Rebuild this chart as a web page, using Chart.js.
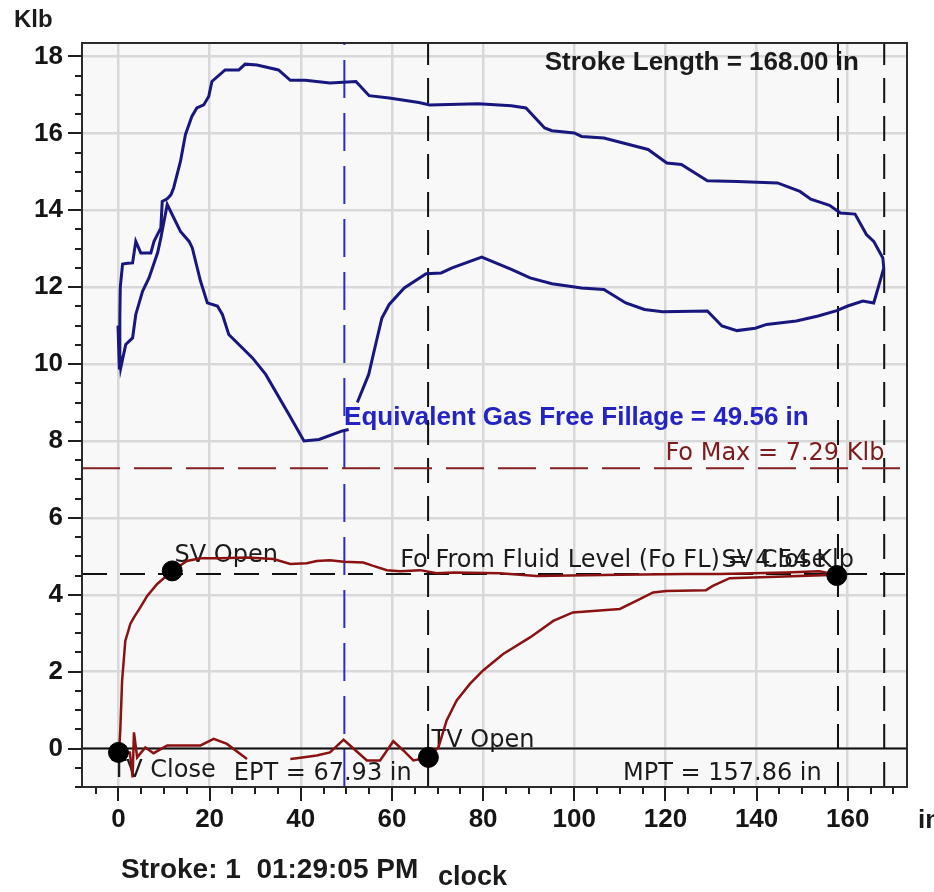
<!DOCTYPE html>
<html>
<head>
<meta charset="utf-8">
<title>Dynamometer card</title>
<script src="https://cdn.jsdelivr.net/npm/chart.js@4.4.1/dist/chart.umd.min.js"></script>
<style>
  body { margin: 0; background: #fff; }
  #wrap { width: 934px; height: 892px; }
</style>
</head>
<body>
<div id="wrap"><canvas id="card" width="934" height="892"></canvas></div>
<script>
// Surface card, upstroke (left to right along the top)
const surfaceUpPos = [0.2, 0.3, 0.4, 0.9, 2.0, 3.1, 3.8, 4.9, 7.1, 7.8, 9.3, 9.6, 10.7, 11.5, 12.1, 13.6, 14.7, 16.1, 17.2, 18.7, 19.8, 20.5, 23.4, 26.4, 27.8, 30.4, 35.1, 37.7, 41.0, 46.4, 52.1, 55.0, 59.4, 65.9, 68.3, 78.9, 86.2, 89.4, 93.5, 95.1, 100.0, 101.6, 106.5, 116.2, 120.3, 123.5, 129.2, 135.7, 144.6, 149.5, 151.9, 156.0, 158.4, 161.6, 164.1, 165.7, 167.7, 167.9];
const surfaceUpLoad = [9.86, 11.2, 12.0, 12.6, 12.62, 12.63, 13.19, 12.89, 12.89, 13.19, 13.54, 14.23, 14.3, 14.4, 14.58, 15.27, 15.97, 16.44, 16.66, 16.74, 16.96, 17.35, 17.65, 17.65, 17.8, 17.78, 17.65, 17.38, 17.38, 17.31, 17.35, 16.98, 16.92, 16.8, 16.74, 16.77, 16.72, 16.66, 16.14, 16.07, 16.01, 15.92, 15.88, 15.58, 15.23, 15.19, 14.77, 14.75, 14.71, 14.49, 14.29, 14.13, 13.93, 13.9, 13.37, 13.19, 12.76, 12.5];

// Surface card, downstroke (right to left along the bottom); null = hidden under a label
const surfaceDownPos = [167.3, 165.7, 163.3, 160.0, 157.6, 153.5, 148.7, 142.2, 139.7, 135.7, 132.4, 129.2, 119.4, 115.4, 111.3, 106.5, 101.6, 95.1, 90.3, 86.2, 79.7, 73.2, 70.8, 67.5, 62.7, 59.4, 57.8, 56.6, 54.9, 52.4, 51.5, 50.5, 49.1, 44.0, 40.7, 37.4, 32.3, 29.4, 24.2, 22.8, 21.7, 19.5, 18.0, 16.2, 15.5, 13.6, 10.7, 9.3, 8.6, 6.7, 5.3, 3.8, 3.1, 1.6, 0.5, -0.1, 0.2];
const surfaceDownLoad = [12.24, 11.59, 11.64, 11.51, 11.39, 11.25, 11.12, 11.03, 10.93, 10.87, 10.99, 11.38, 11.36, 11.42, 11.59, 11.94, 11.98, 12.09, 12.24, 12.46, 12.78, 12.5, 12.37, 12.35, 11.98, 11.55, 11.2, 10.6, 9.73, 9.0, null, 8.3, 8.26, 8.04, 8.0, 8.69, 9.73, 10.16, 10.77, 11.29, 11.51, 11.59, 12.16, 13.02, 13.19, 13.45, 14.15, 13.28, 12.9, 12.24, 11.9, 11.29, 10.68, 10.51, 9.9, 11.0, 9.86];

// Pump card, upstroke (TV close -> SV open -> SV close)
const pumpUpPos = [0.1, 0.4, 0.8, 1.5, 2.6, 3.4, 4.8, 6.3, 8.5, 11.8, 15.0, 18.0, 22.3, 28.2, 34.0, 37.7, 41.3, 43.5, 46.4, 49.4, 53.7, 55.9, 58.9, 61.8, 66.2, 69.8, 73.5, 83.7, 91.7, 110.0, 124.6, 131.9, 139.2, 146.5, 153.8, 157.4];
const pumpUpLoad = [-0.1, 0.47, 1.77, 2.8, 3.24, 3.41, 3.67, 3.97, 4.28, 4.62, 4.88, 4.95, 4.95, 4.97, 4.93, 4.8, 4.82, 4.88, 4.9, 4.86, 4.84, 4.75, 4.64, 4.61, 4.64, 4.56, 4.58, 4.56, 4.49, 4.52, 4.54, 4.54, 4.56, 4.58, 4.61, 4.52];

// Pump card, downstroke (SV close -> TV open -> TV close)
const pumpDownPos = [134.1, 130.4, 128.9, 120.2, 117.3, 113.6, 110.0, 104.1, 99.7, 95.4, 90.3, 84.4, 80.0, 77.1, 74.2, 72.0, 70.2, 68.0, 64.7, 62.5, 60.3, 57.4, 54.5, 49.4, 46.4, 43.5, 39.1, 37.7, 33.0, 28.2, 23.8, 20.9, 18.0, 10.7, 7.7, 5.9, 4.1, 3.4, 3.1, 2.5, 0.1];
const pumpDownLoad = [4.43, 4.23, 4.12, 4.1, 4.06, 3.84, 3.63, 3.58, 3.54, 3.32, 2.89, 2.46, 2.03, 1.68, 1.25, 0.73, 0.03, -0.23, -0.31, -0.05, 0.19, -0.31, -0.31, 0.23, -0.1, -0.18, -0.25, -0.27, null, -0.27, 0.12, 0.25, 0.08, 0.08, -0.12, 0.03, -0.23, 0.42, -0.75, -0.1, -0.1];

// Valve events
const valveNames = ["TV Close", "SV Open", "TV Open", "SV Close"];
const valvePos = [0, 11.8, 68.0, 157.6];
const valveLoad = [-0.1, 4.62, -0.23, 4.5];

// Reference values
const foMax = 7.29;
const foFluidLevel = 4.54;
const fillage = 49.56;
const ept = 67.93;
const mpt = 157.86;
const strokeLength = 168.0;

// Axes
const xTicks = [0, 20, 40, 60, 80, 100, 120, 140, 160];
const yTicks = [0, 2, 4, 6, 8, 10, 12, 14, 16, 18];
const xRange = [-8, 173];
const yRange = [-1, 18.35];

function toPoints(xs, ys) {
    return xs.map((x, i) => ({ x: x, y: ys[i] }));
}

function hLine(y) {
    return [{ x: xRange[0], y: y }, { x: xRange[1], y: y }];
}

function vLine(x) {
    return [{ x: x, y: yRange[0] }, { x: x, y: yRange[1] }];
}

const regular = "24px 'DejaVu Sans'";
const bold = "bold 26px 'Liberation Sans'";

// Text placed on the plot, anchored in data units (left edge, baseline)
const notes = [
    { text: "Stroke Length = " + strokeLength.toFixed(2) + " in", x: 93.5, y: 17.66, font: bold, color: "#1b1b1b" },
    { text: "Equivalent Gas Free Fillage = " + fillage.toFixed(2) + " in", x: 49.5, y: 8.41, font: bold, color: "#2424c4" },
    { text: "Fo Max = " + foMax.toFixed(2) + " Klb", x: 120.0, y: 7.51, font: regular, color: "#7c1c1c" },
    { text: "Fo From Fluid Level (Fo FL) = " + foFluidLevel.toFixed(2) + " Klb", x: 61.8, y: 4.73, font: regular, color: "#1b1b1b" },
    { text: valveNames[1], x: 12.3, y: 4.84, font: regular, color: "#1b1b1b" },
    { text: valveNames[3], x: 132.3, y: 4.73, font: regular, color: "#1b1b1b" },
    { text: valveNames[2], x: 68.7, y: 0.03, font: regular, color: "#1b1b1b" },
    { text: valveNames[0], x: -1.5, y: -0.73, font: regular, color: "#1b1b1b" },
    { text: "EPT = " + ept.toFixed(2) + " in", x: 25.3, y: -0.83, font: regular, color: "#1b1b1b" },
    { text: "MPT = " + mpt.toFixed(2) + " in", x: 110.7, y: -0.83, font: regular, color: "#1b1b1b" }
];

// Plot background, on-plot notes, minor ticks, frame and outside captions
const cardDecor = {
    id: "cardDecor",
    beforeDraw(chart) {
        const { ctx, chartArea: a } = chart;
        ctx.save();
        ctx.fillStyle = "#f8f8f8";
        ctx.fillRect(a.left, a.top, a.right - a.left, a.bottom - a.top);
        ctx.restore();
    },
    beforeDatasetsDraw(chart) {
        const { ctx, scales } = chart;
        ctx.save();
        ctx.textBaseline = "alphabetic";
        ctx.textAlign = "left";
        notes.forEach(n => {
            ctx.font = n.font;
            ctx.fillStyle = n.color;
            ctx.fillText(n.text, scales.x.getPixelForValue(n.x), scales.y.getPixelForValue(n.y));
        });
        ctx.restore();
    },
    afterDraw(chart) {
        const { ctx, chartArea: a, scales } = chart;
        ctx.save();
        ctx.strokeStyle = "#1e1e1e";
        ctx.lineWidth = 2;

        // tick marks outside the frame
        ctx.beginPath();
        for (let v = -5; v <= xRange[1]; v += 5) {
            const px = Math.round(scales.x.getPixelForValue(v));
            const len = v % 20 === 0 ? 14 : 7;
            ctx.moveTo(px, a.bottom);
            ctx.lineTo(px, a.bottom + len);
        }
        for (let v = -1; v <= 18; v += 0.5) {
            const py = Math.round(scales.y.getPixelForValue(v));
            const len = (v % 2 === 0) ? 14 : 7;
            ctx.moveTo(a.left, py);
            ctx.lineTo(a.left - len, py);
        }
        ctx.stroke();

        // frame
        ctx.strokeStyle = "#2a2a2a";
        ctx.strokeRect(a.left, a.top, a.right - a.left, a.bottom - a.top);

        // captions outside the plot
        ctx.fillStyle = "#1b1b1b";
        ctx.textBaseline = "alphabetic";
        ctx.font = "bold 24px 'Liberation Sans'";
        ctx.fillText("Klb", 14, 27);
        ctx.font = bold;
        ctx.fillText("in", 918, 828);
        ctx.font = "bold 28px 'Liberation Sans'";
        ctx.fillText("Stroke: 1  01:29:05 PM", 121, 878);
        ctx.font = "bold 27px 'Liberation Sans'";
        ctx.fillText("clock", 438, 885);
        ctx.restore();
    }
};

const dashedBlack = [25, 13];

new Chart(document.getElementById("card"), {
    type: "scatter",
    data: {
        datasets: [
            {
                // valve markers, drawn on top
                data: toPoints(valvePos, valveLoad),
                pointRadius: 10,
                pointBackgroundColor: "#000",
                pointBorderColor: "#000",
                showLine: false
            },
            {
                data: toPoints(pumpUpPos, pumpUpLoad).concat(toPoints(pumpDownPos, pumpDownLoad)),
                showLine: true,
                borderColor: "#8a1212",
                borderWidth: 2.5,
                pointRadius: 0,
                spanGaps: false
            },
            {
                data: toPoints(surfaceUpPos, surfaceUpLoad).concat(toPoints(surfaceDownPos, surfaceDownLoad)),
                showLine: true,
                borderColor: "#17177e",
                borderWidth: 3,
                pointRadius: 0,
                spanGaps: false
            },
            {
                data: hLine(0),
                showLine: true,
                borderColor: "#111",
                borderWidth: 2,
                pointRadius: 0
            },
            {
                data: hLine(foFluidLevel),
                showLine: true,
                borderColor: "#111",
                borderWidth: 2,
                borderDash: dashedBlack,
                pointRadius: 0
            },
            {
                data: hLine(foMax),
                showLine: true,
                borderColor: "#84201f",
                borderWidth: 2,
                borderDash: [38, 14],
                pointRadius: 0
            },
            {
                data: vLine(fillage),
                showLine: true,
                borderColor: "#2b2bd0",
                borderWidth: 2,
                borderDash: [38, 15],
                pointRadius: 0
            },
            {
                data: vLine(ept),
                showLine: true,
                borderColor: "#111",
                borderWidth: 2,
                borderDash: dashedBlack,
                pointRadius: 0
            },
            {
                data: vLine(mpt),
                showLine: true,
                borderColor: "#111",
                borderWidth: 2,
                borderDash: dashedBlack,
                pointRadius: 0
            },
            {
                data: vLine(strokeLength),
                showLine: true,
                borderColor: "#111",
                borderWidth: 2,
                borderDash: dashedBlack,
                pointRadius: 0
            }
        ]
    },
    options: {
        responsive: false,
        devicePixelRatio: 1,
        animation: false,
        events: [],
        layout: { padding: { left: 0, top: 43, right: 27, bottom: 45 } },
        plugins: {
            legend: { display: false },
            tooltip: { enabled: false }
        },
        scales: {
            x: {
                type: "linear",
                min: xRange[0],
                max: xRange[1],
                afterBuildTicks: s => { s.ticks = xTicks.map(v => ({ value: v })); },
                afterFit: s => { s.height = 60; },
                grid: { color: "#d8d8d8", lineWidth: 2.5, drawTicks: false },
                border: { display: false },
                ticks: {
                    autoSkip: false,
                    maxRotation: 0,
                    padding: 17,
                    color: "#151515",
                    font: { family: "'Liberation Sans'", weight: "bold", size: 26 }
                }
            },
            y: {
                type: "linear",
                min: yRange[0],
                max: yRange[1],
                afterBuildTicks: s => { s.ticks = yTicks.map(v => ({ value: v })); },
                afterFit: s => { s.width = 82; },
                grid: { color: "#d8d8d8", lineWidth: 2.5, drawTicks: false },
                border: { display: false },
                ticks: {
                    padding: 19,
                    color: "#151515",
                    font: { family: "'Liberation Sans'", weight: "bold", size: 26 }
                }
            }
        }
    },
    plugins: [cardDecor]
});
</script>
</body>
</html>
